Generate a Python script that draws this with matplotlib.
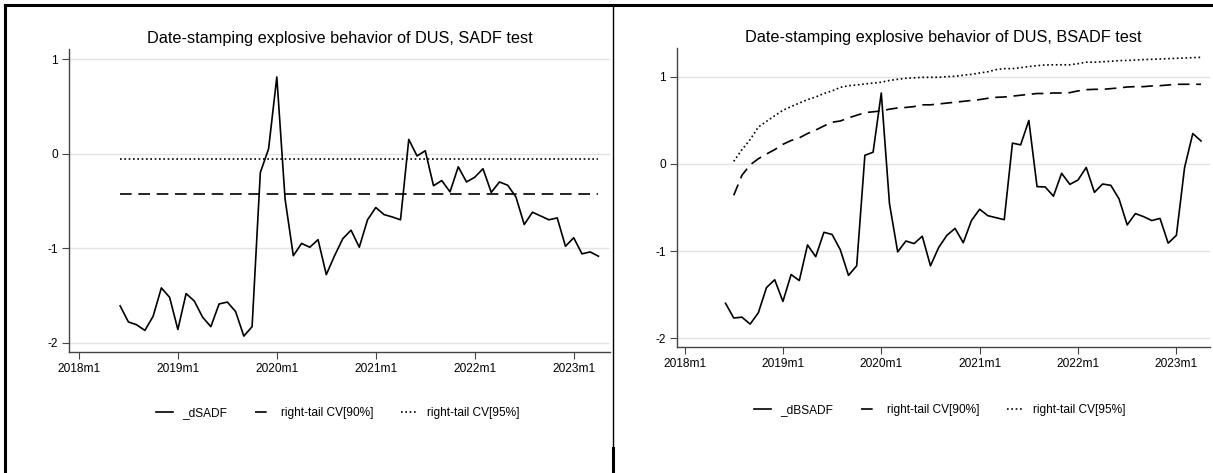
import numpy as np
import pandas as pd
import matplotlib
matplotlib.use('Agg')
import matplotlib.pyplot as plt
from matplotlib.lines import Line2D

plt.rcParams['font.family'] = ['Liberation Sans', 'DejaVu Sans']
plt.rcParams['axes.unicode_minus'] = False

# monthly sample, 2018m6 - 2023m4
months = pd.period_range('2018-06', '2023-04', freq='M')

sadf = [-1.61, -1.78, -1.81, -1.87, -1.72, -1.42, -1.52, -1.86, -1.48, -1.56,
        -1.73, -1.83, -1.59, -1.57, -1.67, -1.93, -1.83, -0.20, 0.05, 0.81,
        -0.48, -1.08, -0.95, -0.99, -0.91, -1.28, -1.08, -0.90, -0.81, -0.99,
        -0.70, -0.57, -0.645, -0.67, -0.70, 0.15, -0.025, 0.03, -0.34, -0.285,
        -0.405, -0.14, -0.30, -0.25, -0.16, -0.41, -0.30, -0.335, -0.46, -0.75,
        -0.62, -0.66, -0.70, -0.68, -0.98, -0.89, -1.06, -1.04, -1.085]
sadf_cv90 = -0.43
sadf_cv95 = -0.053

bsadf = [-1.60, -1.77, -1.76, -1.84, -1.71, -1.42, -1.33, -1.58, -1.27, -1.34,
         -0.93, -1.065, -0.785, -0.81, -0.985, -1.28, -1.17, 0.10, 0.135, 0.816,
         -0.456, -1.01, -0.885, -0.915, -0.83, -1.17, -0.96, -0.82, -0.74, -0.905,
         -0.65, -0.52, -0.594, -0.617, -0.64, 0.24, 0.22, 0.50, -0.26, -0.264,
         -0.37, -0.107, -0.234, -0.184, -0.04, -0.326, -0.23, -0.245, -0.40, -0.70,
         -0.57, -0.605, -0.65, -0.625, -0.91, -0.82, -0.04, 0.35, 0.265]
# critical values start one month later (2018m7)
bsadf_cv90 = [-0.36, -0.13, -0.01, 0.06, 0.115, 0.165, 0.226, 0.27, 0.30, 0.35,
              0.39, 0.437, 0.48, 0.494, 0.53, 0.56, 0.59, 0.60, 0.61, 0.63,
              0.644, 0.65, 0.66, 0.68, 0.68, 0.69, 0.70, 0.71, 0.72, 0.73,
              0.74, 0.755, 0.766, 0.77, 0.78, 0.79, 0.80, 0.81, 0.81, 0.816,
              0.816, 0.82, 0.84, 0.854, 0.858, 0.858, 0.866, 0.874, 0.885, 0.889,
              0.889, 0.897, 0.90, 0.908, 0.916, 0.916, 0.916, 0.916]
bsadf_cv95 = [0.03, 0.165, 0.28, 0.425, 0.49, 0.555, 0.617, 0.66, 0.70, 0.74,
              0.77, 0.81, 0.84, 0.88, 0.90, 0.908, 0.92, 0.93, 0.94, 0.96,
              0.973, 0.985, 0.99, 0.996, 0.996, 0.996, 1.004, 1.008, 1.02, 1.03,
              1.046, 1.06, 1.084, 1.096, 1.096, 1.107, 1.12, 1.13, 1.138, 1.14,
              1.14, 1.14, 1.153, 1.17, 1.17, 1.176, 1.18, 1.188, 1.19, 1.195,
              1.2, 1.203, 1.207, 1.21, 1.215, 1.218, 1.222, 1.226]

tick_labels = ['2018m1', '2019m1', '2020m1', '2021m1', '2022m1', '2023m1']

W, H = 1213, 473
fig = plt.figure(figsize=(W / 100, H / 100), dpi=100)

# month index relative to 2018m1
x = np.array([(m.year - 2018) * 12 + m.month - 1 for m in months])

def px_axes(l, r, t, b):
    return fig.add_axes([l / W, 1 - b / H, (r - l) / W, (b - t) / H])

def style_axes(ax, ylim, xlim):
    ax.set_xlim(*xlim)
    ax.set_ylim(*ylim)
    ax.set_xticks(np.arange(0, 61, 12))
    ax.set_xticklabels(tick_labels)
    ax.set_yticks([1, 0, -1, -2])
    ax.set_yticklabels(['1', '0', '-1', '-2'])
    for s in ['top', 'right']:
        ax.spines[s].set_visible(False)
    for s in ['left', 'bottom']:
        ax.spines[s].set_color('#444444')
        ax.spines[s].set_linewidth(1.0)
    ax.tick_params(length=5, width=0.8, color='#444444', labelsize=8.6, pad=3)
    ax.grid(axis='y', color='#e4e4e4', linewidth=1.0)
    ax.set_axisbelow(True)

lw = 1.2
dash = (0, (7, 4))
dot = (0, (1, 1.6))

# left: SADF
ax1 = px_axes(69, 610, 49, 352)
ax1.plot(x, sadf, color='black', lw=lw, label='_dSADF')
ax1.plot(x, [sadf_cv90] * len(x), color='black', lw=lw, ls=dash, label='right-tail CV[90%]')
ax1.plot(x, [sadf_cv95] * len(x), color='black', lw=lw, ls=dot, label='right-tail CV[95%]')
style_axes(ax1, (-2.098, 1.106), (-1.2, 64.4))
ax1.set_title('Date-stamping explosive behavior of DUS, SADF test', fontsize=11.7, pad=4.5)

# right: BSADF
ax2 = px_axes(677, 1210, 48, 347)
ax2.plot(x, bsadf, color='black', lw=lw, label='_dBSADF')
ax2.plot(x[1:], bsadf_cv90, color='black', lw=lw, ls=dash, label='right-tail CV[90%]')
ax2.plot(x[1:], bsadf_cv95, color='black', lw=lw, ls=dot, label='right-tail CV[95%]')
style_axes(ax2, (-2.103, 1.333), (-0.92, 64.1))
ax2.set_title('Date-stamping explosive behavior of DUS, BSADF test', fontsize=11.7, pad=4.5)

for ax, cx, cy in [(ax1, 338, 413), (ax2, 940, 410)]:
    fig.legend(handles=ax.get_lines(), loc='center', ncol=3, frameon=False,
               bbox_to_anchor=(cx / W, 1 - cy / H), fontsize=8.6,
               handlelength=1.4, handletextpad=0.8, columnspacing=2.3)

# panel frame lines
fig.add_artist(Line2D([5 / W, 1], [1 - 5 / H] * 2, color='black', lw=2.2))
fig.add_artist(Line2D([5 / W] * 2, [0, 1 - 5 / H], color='black', lw=2.2))
fig.add_artist(Line2D([613 / W] * 2, [0, 1 - 5 / H], color='black', lw=1.0))
fig.add_artist(Line2D([613 / W] * 2, [0, 1 - 448 / H], color='black', lw=2.2))

fig.savefig('out.png', dpi=100)
